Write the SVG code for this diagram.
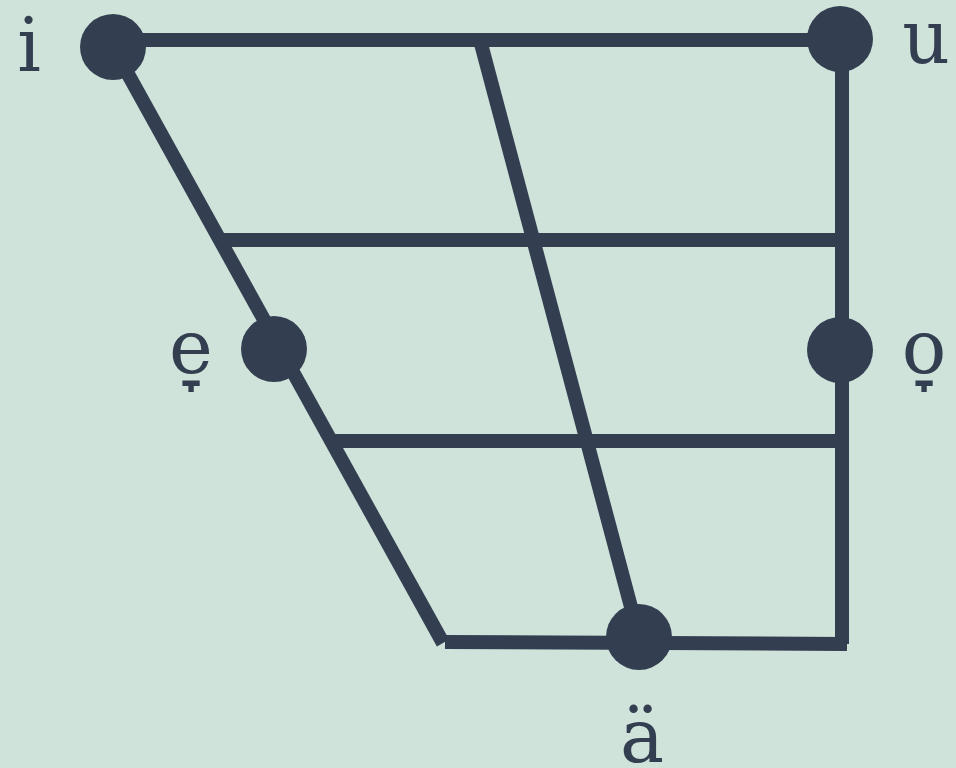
<svg xmlns="http://www.w3.org/2000/svg" width="956" height="768" viewBox="0 0 956 768">
<style>
.ln{stroke:#333e50;stroke-width:14;fill:none}
.pt{fill:#333e50}
.lb{font-family:"DejaVu Serif","Liberation Serif",serif;font-size:74px;fill:#333e50;text-anchor:middle}
</style>
<rect width="956" height="768" fill="#cfe3da"/>
<g id="connectors">
<line class="ln" x1="113" y1="40" x2="840" y2="40"/>
<line class="ln" x1="113" y1="47" x2="443" y2="643"/>
<line class="ln" x1="842" y1="39" x2="842" y2="644"/>
<line class="ln" x1="445" y1="642" x2="847" y2="644"/>
<line class="ln" x1="480" y1="40" x2="639" y2="637"/>
<line class="ln" x1="221" y1="240" x2="842" y2="240"/>
<line class="ln" x1="333" y1="441" x2="842" y2="441"/>
</g>
<g id="node-i"><circle class="pt" cx="113" cy="47" r="33"/><text class="lb" x="29" y="71">i</text></g>
<g id="node-u"><circle class="pt" cx="840" cy="39" r="33"/><text class="lb" x="926" y="63">u</text></g>
<g id="node-e"><circle class="pt" cx="274" cy="349" r="33"/><text class="lb" x="191" y="373">e̞</text></g>
<g id="node-o"><circle class="pt" cx="840" cy="350" r="33"/><text class="lb" x="924" y="373">o̞</text></g>
<g id="node-a"><circle class="pt" cx="639" cy="637" r="33"/><text class="lb" x="642" y="762">ä</text></g>
</svg>
